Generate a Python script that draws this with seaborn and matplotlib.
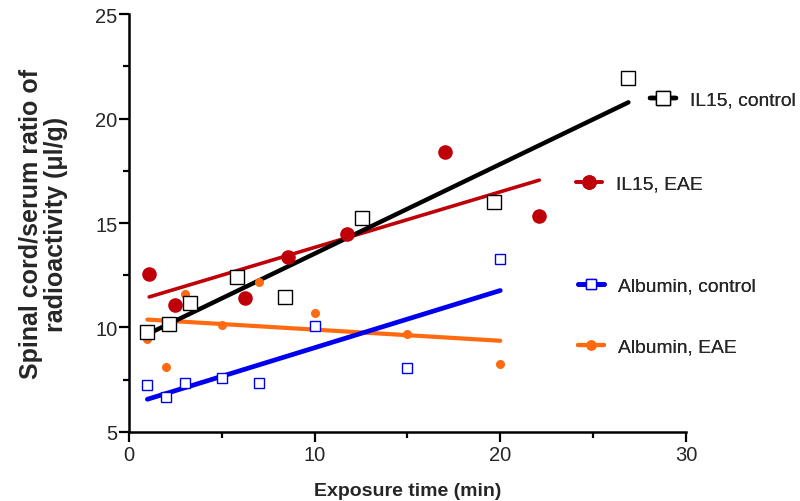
import numpy as np
import pandas as pd
import seaborn as sns
import matplotlib.pyplot as plt
from matplotlib.lines import Line2D

# values
il15_ctrl_x = [1.0, 2.15, 3.3, 5.8, 8.4, 12.55, 19.65, 26.9]
il15_ctrl_y = [9.8, 10.17, 11.17, 12.4, 11.46, 15.22, 16.0, 21.94]

il15_eae_x = [1.1, 2.5, 6.25, 8.55, 11.75, 17.0, 22.1]
il15_eae_y = [12.55, 11.08, 11.4, 13.37, 14.47, 18.42, 15.33]

alb_ctrl_x = [1, 2, 3, 5, 7, 10, 15, 20]
alb_ctrl_y = [7.25, 6.67, 7.34, 7.58, 7.34, 10.07, 8.06, 13.28]

alb_eae_x = [1, 2, 3, 5, 7, 10, 15, 20]
alb_eae_y = [9.45, 8.1, 11.6, 10.1, 12.2, 10.7, 9.7, 8.25]

series = [
    # label, x, y, colour, marker, size, face, lw
    ("Albumin, EAE", alb_eae_x, alb_eae_y, "#FF6A10", "o", 6.5, "#FF6A10", 3.0),
    ("Albumin, control", alb_ctrl_x, alb_ctrl_y, "#0000F0", "s", 6.5, "white", 3.4),
    ("IL15, EAE", il15_eae_x, il15_eae_y, "#C00008", "o", 10.5, "#C00008", 2.6),
    ("IL15, control", il15_ctrl_x, il15_ctrl_y, "black", "s", 10.5, "white", 3.2),
]

sns.set_style("ticks")
plt.rcParams["font.family"] = ["Liberation Sans", "DejaVu Sans"]

fig = plt.figure(figsize=(8, 5.02), dpi=100)
ax = fig.add_axes([0.161, 0.1375, 0.6965, 0.8325])

for i, (label, x, y, col, mk, ms, face, lw) in enumerate(series):
    df = pd.DataFrame({"x": x, "y": y})
    sns.regplot(data=df, x="x", y="y", ax=ax, scatter=False, ci=None,
                truncate=True, color=col, line_kws={"lw": lw, "zorder": 2 + i * 0.1})
for i, (label, x, y, col, mk, ms, face, lw) in enumerate(series):
    ax.plot(x, y, ls="none", marker=mk, ms=ms, mfc=face, mec=col,
            mew=1.0 if face == "white" else 0, zorder=4 + i * 0.1)

ax.set_xlim(0, 30)
ax.set_ylim(5, 25)
ax.set_xticks([0, 10, 20, 30])
ax.set_xticks([5, 15, 25], minor=True)
ax.set_yticks([5, 10, 15, 20, 25])
ax.set_yticks([7.5, 12.5, 17.5, 22.5], minor=True)
ax.tick_params(axis="both", which="major", length=7, width=1.6, labelsize=14.5,
               color="black")
ax.tick_params(axis="y", which="major", pad=1)
ax.tick_params(axis="x", which="major", pad=2.5)
ax.tick_params(axis="both", which="minor", length=4.5, width=1.6, color="black")
sns.despine(ax=ax)
for s in ["left", "bottom"]:
    ax.spines[s].set_linewidth(1.8)
    ax.spines[s].set_color("black")

ax.set_xlabel("Exposure time (min)", fontsize=14, fontweight="bold", labelpad=12.5)
ax.set_ylabel("Spinal cord/serum ratio of\nradioactivity (\u03bcl/g)",
              fontsize=18, fontweight="bold", labelpad=20, linespacing=1.05)

# legend entries sit at uneven places, one legend each
legend_pos = {"IL15, control": (0.8125, 0.799), "IL15, EAE": (0.72, 0.631),
              "Albumin, control": (0.7225, 0.428), "Albumin, EAE": (0.7225, 0.307)}
for label, x, y, col, mk, ms, face, lw in series:
    h = Line2D([], [], color=col, lw=lw, marker=mk,
               ms=ms if ms > 8 else 7.5, mfc=face, mec=col,
               mew=1.0 if face == "white" else 0)
    leg = fig.legend([h], [label], loc="center left",
                     bbox_to_anchor=legend_pos[label],
                     frameon=False, fontsize=13.9, handlelength=1.35,
                     handletextpad=0.72, borderpad=0, borderaxespad=0)
    fig.add_artist(leg)

fig.savefig("out.png", dpi=100)
